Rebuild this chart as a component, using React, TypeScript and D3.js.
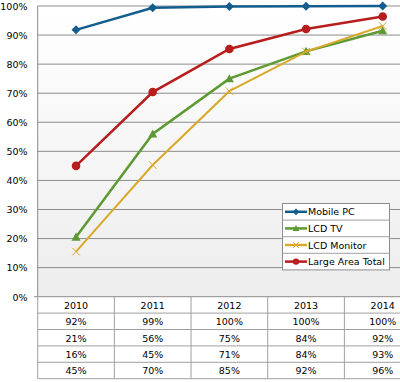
import React from "react";
import * as d3 from "d3";

const years = ["2010", "2011", "2012", "2013", "2014"];
const seriesNames = ["Mobile PC", "LCD TV", "LCD Monitor", "Large Area Total"];
const mobilePC = [91.8, 99.4, 99.8, 99.9, 100];
const lcdTV = [20.5, 56, 75, 84.4, 91.5];
const lcdMonitor = [15.5, 45.3, 70.7, 84.3, 93.1];
const largeArea = [45, 70.4, 85.2, 92.1, 96.4];
const yTicks = [0, 10, 20, 30, 40, 50, 60, 70, 80, 90, 100];
const colors = ["#135d8e", "#5e9a34", "#d8a92a", "#b81d1d"];
const markers = ["diamond", "triangle", "cross", "circle"];

const W = 400, H = 382;
const left = 37.7, colW = 76.67;
const top = 6, bottom = 296.7;
const rowH = 16.4;

export default function App() {
  const data = [mobilePC, lcdTV, lcdMonitor, largeArea];
  const x = d3.scaleBand().domain(years).range([left, left + colW * years.length]);
  const y = d3.scaleLinear().domain([0, 100]).range([bottom, top]);
  const cx = (yr: string) => (x(yr) as number) + x.bandwidth() / 2;
  const line = d3.line<number>().x((_, i) => cx(years[i])).y((v) => y(v));
  const font = "'DejaVu Sans', Verdana, sans-serif";
  const tableRight = left + colW * years.length;
  const fs = 9.5;

  const marker = (type: string, px: number, py: number, color: string, key: string, s = 1) => {
    if (type === "diamond") {
      const r = 4.5 * s;
      return <path key={key} d={`M${px},${py - r}L${px + r},${py}L${px},${py + r}L${px - r},${py}Z`} fill={color} />;
    }
    if (type === "triangle") {
      const r = 4.5 * s;
      return <path key={key} d={`M${px},${py - r}L${px + r},${py + r * 0.8}L${px - r},${py + r * 0.8}Z`} fill={color} />;
    }
    if (type === "cross") {
      const r = 3.8 * s;
      return <path key={key} d={`M${px - r},${py - r}L${px + r},${py + r}M${px - r},${py + r}L${px + r},${py - r}`} stroke={color} strokeWidth={1} fill="none" />;
    }
    return <circle key={key} cx={px} cy={py} r={4.3 * s} fill={color} />;
  };

  const legX = 282.5, legY = 203.5, legW = 107, legRowH = 16.6;

  return (
    <svg width={W} height={H} style={{ position: "absolute", left: 0, top: 0, display: "block" }} fontFamily={font}>
      <defs>
        <linearGradient id="bg" x1="0" y1="0" x2="0" y2="1">
          <stop offset="0" stopColor="#ffffff" />
          <stop offset="1" stopColor="#ededed" />
        </linearGradient>
      </defs>
      <rect x={0} y={0} width={W} height={H} fill="#ffffff" />
      <rect x={left} y={top} width={W - left} height={bottom - top} fill="url(#bg)" />
      {yTicks.map((t) => (
        <g key={t}>
          <line x1={left} x2={W} y1={y(t)} y2={y(t)} stroke="#8c8c8c" strokeWidth={1} />
          <text x={27.5} y={y(t) + 3.8} textAnchor="end" fontSize={fs} fill="#000">{t}%</text>
        </g>
      ))}
      <line x1={34} x2={left} y1={bottom} y2={bottom} stroke="#8c8c8c" />
      <line x1={left} x2={left} y1={top} y2={bottom} stroke="#8c8c8c" />
      {/* table */}
      {[0, 1, 2, 3, 4].map((r) => (
        <line key={"hr" + r} x1={left} x2={tableRight} y1={bottom + rowH * (r + 1)} y2={bottom + rowH * (r + 1)} stroke="#a0a0a0" />
      ))}
      {years.map((yr, i) => (
        <line key={"vl" + i} x1={left + colW * i} x2={left + colW * i} y1={bottom} y2={bottom + rowH * 5} stroke="#a0a0a0" />
      ))}
      {years.map((yr) => (
        <text key={"yr" + yr} x={cx(yr)} y={bottom + rowH * 0.5 + 3.8} textAnchor="middle" fontSize={fs}>{yr}</text>
      ))}
      {data.map((s, si) =>
        s.map((v, i) => (
          <text key={`c${si}-${i}`} x={cx(years[i])} y={bottom + rowH * (si + 1.5) + 3.8} textAnchor="middle" fontSize={fs}>
            {Math.round(v)}%
          </text>
        ))
      )}
      {/* lines */}
      {data.map((s, si) => (
        <g key={"s" + si}>
          <path d={line(s) as string} fill="none" stroke={colors[si]} strokeWidth={si === 2 ? 2 : 2.5} />
          {s.map((v, i) => marker(markers[si], cx(years[i]), y(v), colors[si], `m${si}-${i}`))}
        </g>
      ))}
      {/* legend */}
      <rect x={legX} y={legY} width={legW} height={legRowH * 4} fill="#ffffff" stroke="#8c8c8c" />
      {seriesNames.map((n, i) => {
        const ry = legY + legRowH * i;
        const my = ry + legRowH / 2;
        return (
          <g key={n}>
            {i > 0 && <line x1={legX} x2={legX + legW} y1={ry} y2={ry} stroke="#a0a0a0" />}
            <line x1={285} x2={307} y1={my} y2={my} stroke={colors[i]} strokeWidth={2.5} />
            {marker(markers[i], 296, my, colors[i], "lm" + i, 0.75)}
            <text x={308} y={my + 3.6} fontSize={fs}>{n}</text>
          </g>
        );
      })}
    </svg>
  );
}
